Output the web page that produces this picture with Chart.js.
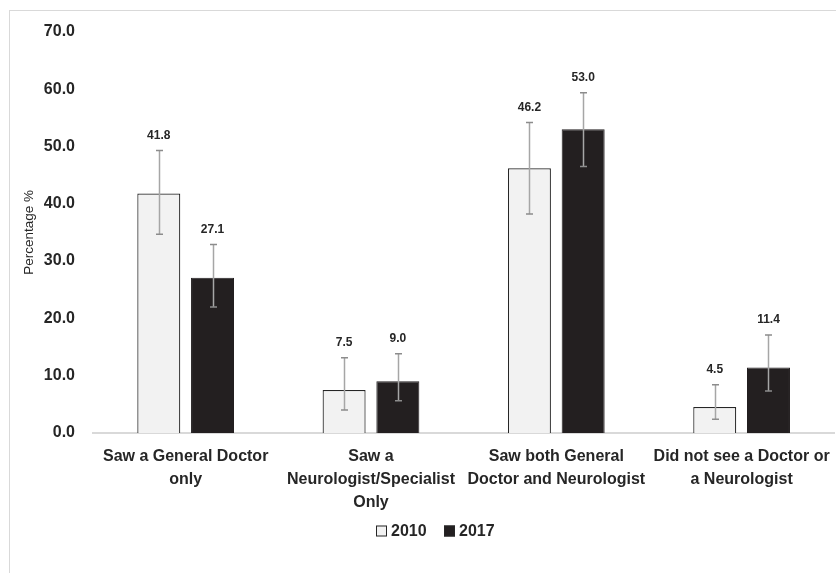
<!DOCTYPE html>
<html>
<head>
<meta charset="utf-8">
<script src="https://cdn.jsdelivr.net/npm/chart.js@4/dist/chart.umd.min.js"></script>
<style>
  html, body { margin: 0; padding: 0; background: #ffffff; overflow: hidden; }
  #wrap { width: 842px; height: 573px; position: relative; }
</style>
</head>
<body>
<div id="wrap"><canvas id="chart"></canvas></div>
<script>
// Categories (multi-line labels)
const categories = [
  ['Saw a General Doctor', 'only'],
  ['Saw a', 'Neurologist/Specialist', 'Only'],
  ['Saw both General', 'Doctor and Neurologist'],
  ['Did not see a Doctor or', 'a Neurologist']
];
const seriesNames = ['2010', '2017'];

// Percentages
const values2010 = [41.8, 7.5, 46.2, 4.5];
const values2017 = [27.1, 9.0, 53.0, 11.4];

// 95% confidence interval bounds
const lower2010 = [34.7, 4.0, 38.2, 2.4];
const upper2010 = [49.3, 13.1, 54.2, 8.4];
const lower2017 = [22.0, 5.6, 46.5, 7.3];
const upper2017 = [32.9, 13.8, 59.4, 17.1];

const yTicks = [0, 10, 20, 30, 40, 50, 60, 70];

const FONT = "'Liberation Sans', Arial, sans-serif";
const TEXT = '#262626';
const fill2010 = '#f2f2f2';
const fill2017 = '#231f20';

const lowers = [lower2010, lower2017];
const uppers = [upper2010, upper2017];

// Frame and white background
const framePlugin = {
  id: 'frame',
  beforeDraw(chart) {
    const ctx = chart.ctx;
    ctx.save();
    ctx.fillStyle = '#ffffff';
    ctx.fillRect(0, 0, chart.width, chart.height);
    ctx.strokeStyle = '#d9d9d9';
    ctx.lineWidth = 1;
    ctx.strokeRect(9.5, 10.5, chart.width + 20, chart.height + 20);
    ctx.restore();
  }
};

// Error bars and value labels
const errorPlugin = {
  id: 'errorBars',
  afterDatasetsDraw(chart) {
    const ctx = chart.ctx;
    const y = chart.scales.y;
    ctx.save();
    chart.data.datasets.forEach((ds, i) => {
      const meta = chart.getDatasetMeta(i);
      meta.data.forEach((bar, j) => {
        const x = Math.round(bar.x) + 0.5;
        const yHi = y.getPixelForValue(uppers[i][j]);
        const yLo = y.getPixelForValue(lowers[i][j]);
        ctx.strokeStyle = '#a6a6a6';
        ctx.lineWidth = 1.5;
        ctx.beginPath();
        ctx.moveTo(x, yHi);
        ctx.lineTo(x, yLo);
        ctx.stroke();
        ctx.strokeStyle = '#8c8c8c';
        ctx.beginPath();
        ctx.moveTo(x - 3.5, yHi);
        ctx.lineTo(x + 3.5, yHi);
        ctx.moveTo(x - 3.5, yLo);
        ctx.lineTo(x + 3.5, yLo);
        ctx.stroke();
        ctx.fillStyle = TEXT;
        ctx.font = 'bold 12px ' + FONT;
        ctx.textAlign = 'center';
        ctx.textBaseline = 'middle';
        ctx.fillText(ds.data[j].toFixed(1), bar.x, yHi - 15);
      });
    });
    ctx.restore();
  }
};

// Legend below the category labels
const legendPlugin = {
  id: 'customLegend',
  afterDraw(chart) {
    const ctx = chart.ctx;
    ctx.save();
    ctx.font = 'bold 16px ' + FONT;
    ctx.textBaseline = 'middle';
    ctx.textAlign = 'left';
    const cy = 531;
    const items = [
      { x: 376, fill: fill2010, text: seriesNames[0] },
      { x: 444, fill: fill2017, text: seriesNames[1] }
    ];
    items.forEach(it => {
      ctx.fillStyle = it.fill;
      ctx.fillRect(it.x, cy - 5.5, 11, 11);
      ctx.strokeStyle = '#262626';
      ctx.lineWidth = 1;
      ctx.strokeRect(it.x + 0.5, cy - 5, 10, 10);
      ctx.fillStyle = TEXT;
      ctx.fillText(it.text, it.x + 15, cy + 1);
    });
    ctx.restore();
  }
};

new Chart(document.getElementById('chart'), {
  type: 'bar',
  data: {
    labels: categories,
    datasets: [
      {
        label: seriesNames[0],
        data: values2010,
        backgroundColor: fill2010,
        borderColor: '#262626',
        borderWidth: 1.2,
        categoryPercentage: 0.58,
        barPercentage: 0.8
      },
      {
        label: seriesNames[1],
        data: values2017,
        backgroundColor: fill2017,
        borderColor: fill2017,
        borderWidth: 1,
        categoryPercentage: 0.58,
        barPercentage: 0.8
      }
    ]
  },
  options: {
    responsive: true,
    maintainAspectRatio: false,
    animation: false,
    layout: { padding: { top: 32, right: 3, bottom: 47, left: 0 } },
    plugins: {
      legend: { display: false },
      tooltip: { enabled: false }
    },
    scales: {
      x: {
        grid: { display: false, drawTicks: false },
        border: { display: true, color: '#d9d9d9', width: 2 },
        ticks: {
          color: TEXT,
          padding: 12,
          maxRotation: 0,
          autoSkip: false,
          font: { family: FONT, size: 16, weight: 'bold', lineHeight: 1.44 }
        }
      },
      y: {
        min: 0,
        max: 70,
        afterBuildTicks(scale) {
          scale.ticks = yTicks.map(v => ({ value: v }));
        },
        afterFit(scale) { scale.width = 93; },
        grid: { display: false, drawTicks: false },
        border: { display: false },
        ticks: {
          color: TEXT,
          padding: 18,
          callback: v => Number(v).toFixed(1),
          font: { family: FONT, size: 16, weight: 'bold' }
        },
        title: {
          display: true,
          text: 'Percentage %',
          color: TEXT,
          padding: { top: 21, bottom: 0 },
          font: { family: FONT, size: 13.5 }
        }
      }
    }
  },
  plugins: [framePlugin, errorPlugin, legendPlugin]
});
</script>
</body>
</html>
